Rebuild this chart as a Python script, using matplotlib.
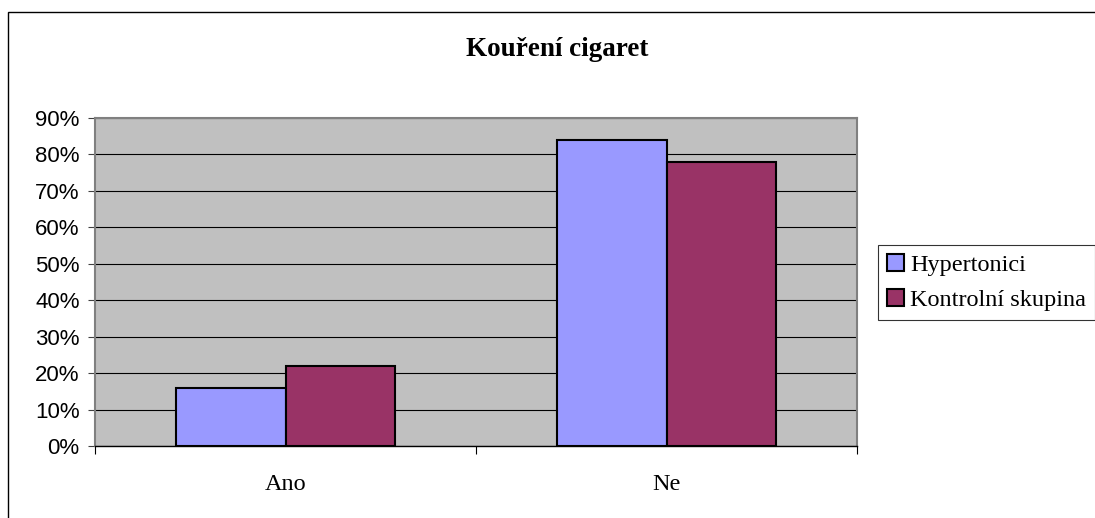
import numpy as np
import matplotlib.pyplot as plt
from matplotlib.patches import Rectangle
from matplotlib.ticker import FixedLocator, PercentFormatter

categories = ['Ano', 'Ne']
series_names = ['Hypertonici', 'Kontrolní skupina']
hypertonici = [16, 84]
kontrolni = [22, 78]
colors = ['#9999FF', '#993366']

W, H = 1095, 518
fig = plt.figure(figsize=(W / 100, H / 100), dpi=100)
fig.patch.set_facecolor('white')

# outer chart frame, runs off the right and bottom edge
fig.add_artist(Rectangle((8 / W, -0.1), 1.2, (H - 12) / H + 0.1,
                         transform=fig.transFigure, fill=False,
                         edgecolor='black', linewidth=1.0))

ax = fig.add_axes([95 / W, (H - 446) / H, (857 - 95) / W, (446 - 118) / H])
ax.set_facecolor('#C0C0C0')

x = np.arange(len(categories))
bw = 0.288
for i, (vals, name) in enumerate([(hypertonici, series_names[0]),
                                  (kontrolni, series_names[1])]):
    ax.bar(x + (i - 0.5) * bw, vals, width=bw, color=colors[i],
           edgecolor='black', linewidth=1.5, label=name, zorder=3)

ax.set_xlim(-0.5, 1.5)
ax.set_ylim(0, 90)
ax.set_yticks(np.arange(0, 91, 10))
ax.yaxis.set_major_formatter(PercentFormatter(decimals=0))
ax.grid(axis='y', color='black', linewidth=0.8, zorder=1)
ax.set_axisbelow(True)

ax.set_xticks(x)
ax.set_xticklabels(categories, family='Liberation Serif', fontsize=17.5)
ax.xaxis.set_minor_locator(FixedLocator([-0.5, 0.5, 1.5]))
ax.tick_params(axis='x', which='major', length=0, pad=20)
ax.tick_params(axis='x', which='minor', length=6, width=0.8, color='black')
ax.tick_params(axis='y', length=5, width=0.8, color='#404040', pad=6)
for lab in ax.get_yticklabels():
    lab.set_family('Liberation Sans')
    lab.set_fontsize(16)

for side in ['left', 'top', 'right']:
    ax.spines[side].set_color('#808080')
    ax.spines[side].set_linewidth(1.5)
ax.spines['bottom'].set_color('black')
ax.spines['bottom'].set_linewidth(1.0)

fig.text(557 / W, 1 - 50 / H, 'Kouření cigaret', ha='center', va='center',
         family='Liberation Serif', fontweight='bold', fontsize=19.5)

leg = ax.legend(loc='upper left', bbox_to_anchor=(878 / W, 1 - 245 / H),
                bbox_transform=fig.transFigure, frameon=True, fancybox=False,
                prop={'family': 'Liberation Serif', 'size': 17.5},
                handlelength=0.7, handleheight=0.7, handletextpad=0.25,
                labelspacing=0.55, borderpad=0.36, borderaxespad=0)
leg.get_frame().set_edgecolor('black')
leg.get_frame().set_linewidth(0.8)

fig.savefig('out.png', dpi=100)
